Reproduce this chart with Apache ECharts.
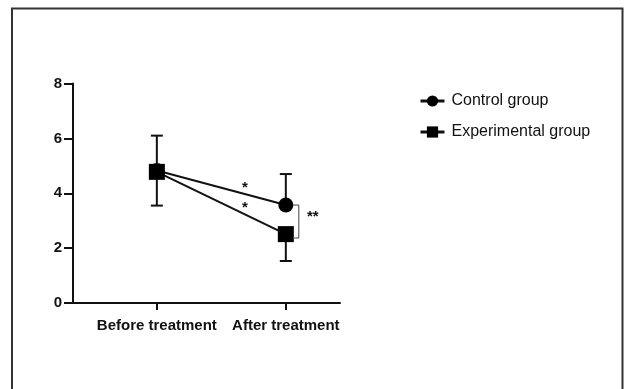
<!DOCTYPE html>
<html>
<head>
<meta charset="utf-8">
<script src="https://cdn.jsdelivr.net/npm/echarts@6/dist/echarts.min.js"></script>
<style>
  html, body { margin: 0; padding: 0; background: #fff; }
  #chart { width: 626px; height: 389px; }
</style>
</head>
<body>
<div id="chart"></div>
<script>
// Time points and group data (mean, one-sided SD: control above, experimental below)
const categories = ['Before treatment', 'After treatment'];
const controlMean = [4.83, 3.57];
const controlSD = [1.27, 1.13];
const experimentalMean = [4.78, 2.51];
const experimentalSD = [1.23, 0.98];
const yTicks = [0, 2, 4, 6, 8];

// category i sits at x = i + 1 on the value axis
const xs = categories.map((_, i) => i + 1);
const controlPts = xs.map((x, i) => [x, controlMean[i]]);
const expPts = xs.map((x, i) => [x, experimentalMean[i]]);

// error bar rows: [x, mean, end]
const errRows = [];
xs.forEach((x, i) => {
  errRows.push([x, controlMean[i], controlMean[i] + controlSD[i]]);
  errRows.push([x, experimentalMean[i], experimentalMean[i] - experimentalSD[i]]);
});

const chart = echarts.init(document.getElementById('chart'), null, { renderer: 'canvas' });

function errorBarItem(params, api) {
  const p0 = api.coord([api.value(0), api.value(1)]);
  const p1 = api.coord([api.value(0), api.value(2)]);
  const half = 6;
  const style = { stroke: '#111', lineWidth: 2, fill: null };
  return {
    type: 'group',
    children: [
      { type: 'line', shape: { x1: p0[0], y1: p0[1], x2: p1[0], y2: p1[1] }, style },
      { type: 'line', shape: { x1: p1[0] - half, y1: p1[1], x2: p1[0] + half, y2: p1[1] }, style }
    ]
  };
}

// significance marks: stars between the two lines, bracket between groups after treatment
function significanceItem(params, api) {
  const after = xs[1];
  const cTop = api.coord([after, controlMean[1]]);
  const eBot = api.coord([after, experimentalMean[1] - 0.14]);
  const bx = cTop[0] + 13;
  const starX = api.coord([1.683, 0])[0];
  const star1 = api.coord([1.683, 4.3]);
  const star2 = api.coord([1.683, 3.58]);
  const lineStyle = { stroke: '#444', lineWidth: 1, fill: null };
  const txt = (x, y, t) => ({
    type: 'text', x: x, y: y,
    style: { text: t, fill: '#111', font: 'bold 15px "Liberation Sans", Arial, sans-serif', align: 'center', verticalAlign: 'middle' }
  });
  return {
    type: 'group',
    children: [
      { type: 'polyline', shape: { points: [[cTop[0] + 7, cTop[1]], [bx, cTop[1]], [bx, eBot[1]], [cTop[0] + 7, eBot[1]]] }, style: lineStyle },
      txt(starX, star1[1] + 3, '*'),
      txt(starX, star2[1] + 3, '*'),
      txt(bx + 14, cTop[1] + 12, '**')
    ]
  };
}

const axisFont = { fontFamily: '"Liberation Sans", Arial, sans-serif', fontWeight: 'bold', color: '#111' };

chart.setOption({
  animation: false,
  backgroundColor: '#fff',
  graphic: [{
    type: 'rect',
    shape: { x: 12, y: 8.5, width: 610.5, height: 400 },
    style: { fill: null, stroke: '#333', lineWidth: 2 },
    silent: true
  }],
  grid: { left: 73, right: 286, top: 83.5, bottom: 86 },
  legend: {
    left: 414, top: 88, orient: 'vertical', itemGap: 15,
    itemWidth: 24, itemHeight: 14,
    lineStyle: { width: 3 },
    textStyle: { fontFamily: '"Liberation Sans", Arial, sans-serif', fontSize: 16, color: '#111', padding: [0, 0, 0, 2] },
    data: ['Control group', 'Experimental group']
  },
  xAxis: {
    type: 'value', min: 0.35, max: 2.42,
    splitLine: { show: false },
    axisLine: { lineStyle: { color: '#111', width: 2 } },
    axisTick: { customValues: xs, length: 7, lineStyle: { color: '#111', width: 2 } },
    axisLabel: Object.assign({ customValues: xs, margin: 15, fontSize: 15, formatter: v => categories[Math.round(v) - 1] || '' }, axisFont)
  },
  yAxis: {
    type: 'value', min: 0, max: 8, interval: 2,
    splitLine: { show: false },
    axisLine: { show: true, lineStyle: { color: '#111', width: 2 } },
    axisTick: { show: true, length: 9, lineStyle: { color: '#111', width: 2 } },
    axisLabel: Object.assign({ margin: 11, fontSize: 15, formatter: v => yTicks.includes(v) ? String(v) : '' }, axisFont)
  },
  series: [
    {
      type: 'custom', name: 'errors', renderItem: errorBarItem, data: errRows, z: 1,
      encode: { x: 0, y: [1, 2] }
    },
    {
      name: 'Control group', type: 'line', data: controlPts, z: 3,
      symbol: 'circle', symbolSize: 15,
      itemStyle: { color: '#000' }, lineStyle: { color: '#111', width: 2 }
    },
    {
      name: 'Experimental group', type: 'line', data: expPts, z: 4,
      symbol: 'rect', symbolSize: 16,
      itemStyle: { color: '#000' }, lineStyle: { color: '#111', width: 2 }
    },
    {
      type: 'custom', name: 'sig', renderItem: significanceItem, data: [[xs[1], controlMean[1]]], z: 5,
      encode: { x: 0, y: 1 }
    }
  ]
});
</script>
</body>
</html>
